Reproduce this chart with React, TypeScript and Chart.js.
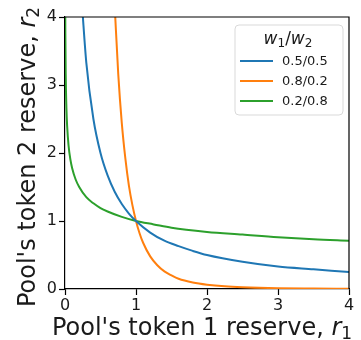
import React, { useEffect, useRef } from "react";
import { Chart, registerables } from "chart.js";

Chart.register(...registerables);

const seriesLabels = ["0.5/0.5", "0.8/0.2", "0.2/0.8"];
const seriesColors = ["#1f77b4", "#ff7f0e", "#2ca02c"];

const r1Blue = [0.24, 0.3, 0.4, 0.5, 0.6, 0.7, 0.8, 0.9, 1, 1.2, 1.4, 1.6, 1.8, 2, 2.5, 3, 3.5, 4];
const r2Blue = [4.17, 3.33, 2.5, 2, 1.67, 1.43, 1.25, 1.11, 1, 0.83, 0.71, 0.63, 0.56, 0.5, 0.4, 0.33, 0.29, 0.25];

const r1Orange = [0.7, 0.75, 0.8, 0.85, 0.9, 0.95, 1, 1.05, 1.1, 1.2, 1.3, 1.4, 1.5, 1.6, 1.8, 2, 2.25, 2.5, 3, 3.5, 4];
const r2Orange = [4.16, 3.16, 2.44, 1.92, 1.52, 1.23, 1, 0.82, 0.68, 0.48, 0.35, 0.26, 0.2, 0.15, 0.095, 0.063, 0.039, 0.026, 0.012, 0.007, 0.004];

const r1Green = [0.0035, 0.005, 0.01, 0.02, 0.03, 0.05, 0.075, 0.1, 0.15, 0.2, 0.3, 0.4, 0.5, 0.6, 0.8, 1, 1.25, 1.5, 2, 2.5, 3, 3.5, 4];
const r2Green = [4.1, 3.76, 3.16, 2.66, 2.4, 2.11, 1.91, 1.78, 1.61, 1.5, 1.35, 1.26, 1.19, 1.14, 1.06, 1, 0.95, 0.9, 0.84, 0.8, 0.76, 0.73, 0.71];

const xTicks = [0, 1, 2, 3, 4];
const yTicks = [0, 1, 2, 3, 4];

const xTitle = "Pool's token 1 reserve, ";
const yTitle = "Pool's token 2 reserve, ";

const FONT = "'DejaVu Sans', sans-serif";

type Part = { t: string; font: string; dy?: number };

function drawParts(ctx: CanvasRenderingContext2D, parts: Part[], cx: number, by: number) {
  let total = 0;
  for (const p of parts) {
    ctx.font = p.font;
    total += ctx.measureText(p.t).width;
  }
  let x = cx - total / 2;
  ctx.textAlign = "left";
  ctx.textBaseline = "alphabetic";
  for (const p of parts) {
    ctx.font = p.font;
    ctx.fillText(p.t, x, by + (p.dy || 0));
    x += ctx.measureText(p.t).width;
  }
}

const zip = (xs: number[], ys: number[]) => xs.map((x, i) => ({ x, y: ys[i] }));

const decorPlugin = {
  id: "decor",
  afterDraw(chart: any) {
    const ctx: CanvasRenderingContext2D = chart.ctx;
    const a = chart.chartArea;
    ctx.save();
    // frame top/right
    ctx.strokeStyle = "#000";
    ctx.lineWidth = 1.2;
    ctx.beginPath();
    ctx.moveTo(a.left, a.top);
    ctx.lineTo(a.right, a.top);
    ctx.lineTo(a.right, a.bottom);
    ctx.stroke();

    ctx.fillStyle = "#1a1a1a";
    // x title
    drawParts(
      ctx,
      [
        { t: xTitle, font: `24px ${FONT}` },
        { t: "r", font: `italic 24px ${FONT}` },
        { t: "1", font: `17px ${FONT}`, dy: 4 },
      ],
      202,
      335
    );
    // y title
    ctx.save();
    ctx.translate(35, 157);
    ctx.rotate(-Math.PI / 2);
    drawParts(
      ctx,
      [
        { t: yTitle, font: `24px ${FONT}` },
        { t: "r", font: `italic 24px ${FONT}` },
        { t: "2", font: `17px ${FONT}`, dy: 4 },
      ],
      0,
      0
    );
    ctx.restore();

    // legend
    const lx = 235, ly = 25, lw = 108, lh = 90, r = 4;
    ctx.beginPath();
    ctx.moveTo(lx + r, ly);
    ctx.arcTo(lx + lw, ly, lx + lw, ly + lh, r);
    ctx.arcTo(lx + lw, ly + lh, lx, ly + lh, r);
    ctx.arcTo(lx, ly + lh, lx, ly, r);
    ctx.arcTo(lx, ly, lx + lw, ly, r);
    ctx.closePath();
    ctx.fillStyle = "rgba(255,255,255,0.85)";
    ctx.fill();
    ctx.strokeStyle = "#d9d9d9";
    ctx.lineWidth = 1;
    ctx.stroke();

    ctx.fillStyle = "#1a1a1a";
    drawParts(
      ctx,
      [
        { t: "w", font: `italic 17px ${FONT}` },
        { t: "1", font: `12px ${FONT}`, dy: 3 },
        { t: "/", font: `17px ${FONT}` },
        { t: "w", font: `italic 17px ${FONT}` },
        { t: "2", font: `12px ${FONT}`, dy: 3 },
      ],
      288,
      44
    );
    seriesLabels.forEach((lab, i) => {
      const y = 61 + i * 20;
      ctx.strokeStyle = seriesColors[i];
      ctx.lineWidth = 2;
      ctx.beginPath();
      ctx.moveTo(240, y);
      ctx.lineTo(273, y);
      ctx.stroke();
      ctx.fillStyle = "#1a1a1a";
      ctx.font = `13px ${FONT}`;
      ctx.textAlign = "left";
      ctx.textBaseline = "middle";
      ctx.fillText(lab, 282, y + 1);
    });
    ctx.restore();
  },
};

export default function App() {
  const ref = useRef<HTMLCanvasElement | null>(null);
  useEffect(() => {
    if (!ref.current) return;
    const datasets = [
      zip(r1Blue, r2Blue),
      zip(r1Orange, r2Orange),
      zip(r1Green, r2Green),
    ].map((d, i) => ({
      label: seriesLabels[i],
      data: d,
      borderColor: seriesColors[i],
      backgroundColor: seriesColors[i],
      borderWidth: 2,
      pointRadius: 0,
      tension: 0.4,
      cubicInterpolationMode: "monotone" as const,
      fill: false,
    }));
    const chart = new Chart(ref.current, {
      type: "line",
      data: { datasets },
      plugins: [decorPlugin],
      options: {
        animation: false,
        responsive: false,
        maintainAspectRatio: false,
        layout: { padding: { top: 17, right: 12, left: 0, bottom: 0 } },
        plugins: { legend: { display: false }, tooltip: { enabled: false } },
        scales: {
          x: {
            type: "linear",
            min: 0,
            max: 4,
            afterBuildTicks: (s: any) => {
              s.ticks = xTicks.map((v) => ({ value: v }));
            },
            afterFit: (s: any) => {
              s.height = 51;
            },
            ticks: {
              font: { family: FONT, size: 16 },
              color: "#1a1a1a",
              padding: 1,
              maxRotation: 0,
            },
            grid: {
              display: true,
              drawOnChartArea: false,
              drawTicks: true,
              tickLength: 6,
              color: "#000",
              tickWidth: 1.2,
            },
            border: { display: true, color: "#000", width: 1.2 },
          },
          y: {
            type: "linear",
            min: 0,
            max: 4,
            afterBuildTicks: (s: any) => {
              s.ticks = yTicks.map((v) => ({ value: v }));
            },
            afterFit: (s: any) => {
              s.width = 65;
            },
            ticks: {
              font: { family: FONT, size: 16 },
              color: "#1a1a1a",
              padding: 2,
            },
            grid: {
              display: true,
              drawOnChartArea: false,
              drawTicks: true,
              tickLength: 6,
              color: "#000",
              tickWidth: 1.2,
            },
            border: { display: true, color: "#000", width: 1.2 },
          },
        },
      },
    });
    return () => chart.destroy();
  }, []);
  return (
    <div style={{ position: "absolute", left: 0, top: 0, width: 361, height: 340, background: "#fff" }}>
      <canvas ref={ref} width={361} height={340} style={{ display: "block", width: 361, height: 340 }} />
    </div>
  );
}
